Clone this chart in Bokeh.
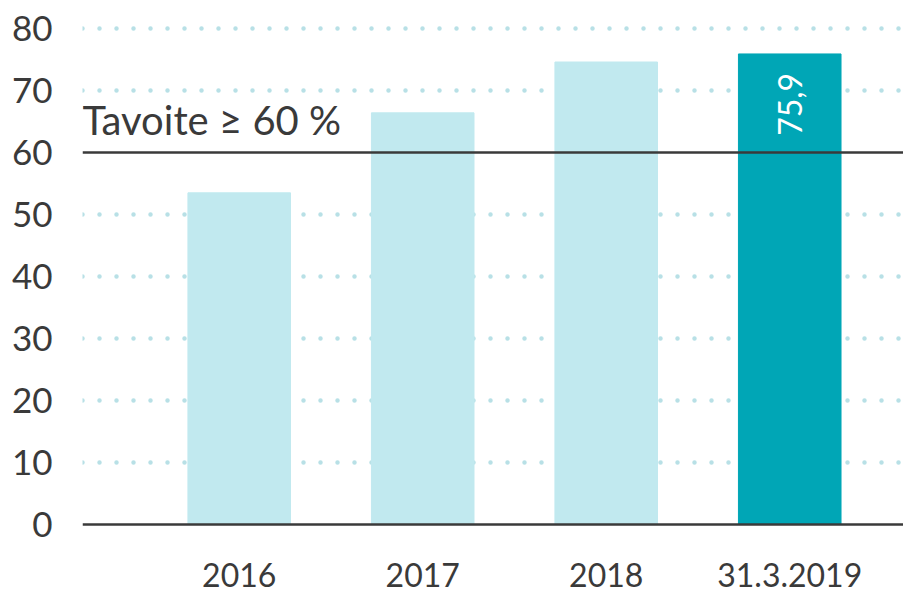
import math
from bokeh.plotting import figure
from bokeh.models import Range1d, FixedTicker, Span, Label, ColumnDataSource
from bokeh.embed import file_html
from bokeh.resources import INLINE

categories = ["2016", "2017", "2018", "31.3.2019"]
values = [53.5, 66.4, 74.6, 75.9]
bar_colors = ["#c1e9ef", "#c1e9ef", "#c1e9ef", "#00a6b6"]
y_ticks = [0, 10, 20, 30, 40, 50, 60, 70, 80]
target = 60
target_text = "Tavoite ≥ 60 %"
value_label = "75,9"

FONT = "Lato"
TXT = "#3a3a3a"

xs = list(range(len(categories)))
src = ColumnDataSource(dict(x=xs, top=values, color=bar_colors))

p = figure(width=903, height=604, output_backend="svg", toolbar_location=None,
           x_range=Range1d(-0.854, 3.62), y_range=Range1d(-2.58, 84.52),
           min_border_left=82, min_border_right=0, min_border_top=0, min_border_bottom=64)
p.outline_line_color = None
p.background_fill_color = "white"
p.border_fill_color = "white"

p.vbar(x="x", top="top", bottom=0, width=0.559, color="color", source=src)

# grid
p.xgrid.grid_line_color = None
p.ygrid.ticker = FixedTicker(ticks=[t for t in y_ticks if t not in (0, target)])
p.ygrid.grid_line_color = "#b8e0e6"
p.ygrid.grid_line_width = 4.5
p.ygrid.grid_line_dash = "0 17"
p.ygrid.grid_line_cap = "round"

# y axis
p.yaxis.ticker = FixedTicker(ticks=y_ticks)
p.yaxis.axis_line_color = None
p.yaxis.major_tick_line_color = None
p.yaxis.major_tick_in = 0
p.yaxis.major_tick_out = 0
p.yaxis.minor_tick_line_color = None
p.yaxis.major_label_standoff = 30
p.yaxis.major_label_text_font = FONT
p.yaxis.major_label_text_font_size = "35px"
p.yaxis.major_label_text_color = TXT

# x axis
p.xaxis.ticker = FixedTicker(ticks=xs)
p.xaxis.major_label_overrides = {i: c for i, c in zip(xs, categories)}
p.xaxis.axis_line_color = None
p.xaxis.major_tick_line_color = None
p.xaxis.major_tick_in = 0
p.xaxis.major_tick_out = 0
p.xaxis.minor_tick_line_color = None
p.xaxis.major_label_standoff = 22
p.xaxis.major_label_text_font = FONT
p.xaxis.major_label_text_font_size = "32px"
p.xaxis.major_label_text_color = TXT

# baseline and target line
p.add_layout(Span(location=0, dimension="width", line_color="#3a3a3a", line_width=2.5))
p.add_layout(Span(location=target, dimension="width", line_color="#3a3a3a", line_width=2.5))

p.add_layout(Label(x=-0.854, y=target + 5.2, text=target_text,
                   text_font=FONT, text_font_size="40px", text_color=TXT,
                   text_baseline="alphabetic", text_align="left"))

p.add_layout(Label(x=xs[-1], y=values[-1] - 3.06, text=value_label, angle=math.pi / 2,
                   text_font=FONT, text_font_size="32px", text_color="white",
                   text_baseline="middle", text_align="right"))

open("out.html", "w").write(file_html(p, INLINE))
